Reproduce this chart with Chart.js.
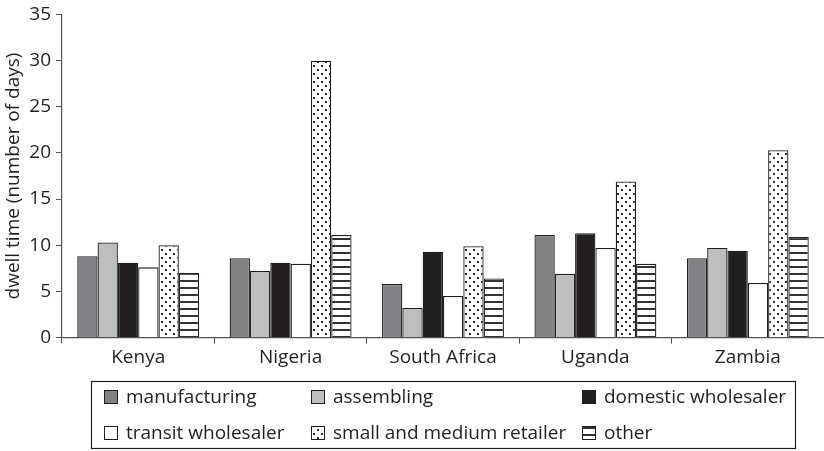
<!DOCTYPE html>
<html>
<head>
<meta charset="utf-8">
<script src="https://cdn.jsdelivr.net/npm/chart.js@4/dist/chart.umd.min.js"></script>
<style>
  body { margin: 0; background: #fff; }
</style>
</head>
<body>
<canvas id="mycanvas" width="824" height="451"></canvas>
<script>
// data
var countries = ['Kenya', 'Nigeria', 'South Africa', 'Uganda', 'Zambia'];
var seriesNames = ['manufacturing', 'assembling', 'domestic wholesaler',
                   'transit wholesaler', 'small and medium retailer', 'other'];
var manufacturing = [8.8, 8.6, 5.8, 11.1, 8.6];
var assembling = [10.3, 7.2, 3.2, 6.9, 9.7];
var domesticWholesaler = [8.1, 8.1, 9.3, 11.3, 9.4];
var transitWholesaler = [7.6, 8.0, 4.5, 9.7, 5.9];
var smeRetailer = [10.0, 30.0, 9.9, 16.9, 20.3];
var other = [7.0, 11.1, 6.4, 8.0, 10.9];
var yTicks = [0, 5, 10, 15, 20, 25, 30, 35];

var ink = '#231f20';
var font = '"Open Sans", "DejaVu Sans", sans-serif';

// fill patterns
function dotPattern() {
    var c = document.createElement('canvas');
    c.width = 8; c.height = 8;
    var g = c.getContext('2d');
    g.fillStyle = '#fff';
    g.fillRect(0, 0, 8, 8);
    g.fillStyle = '#333';
    g.fillRect(1, 1, 2, 2);
    g.fillRect(5, 5, 2, 2);
    return g.createPattern(c, 'repeat');
}
function stripePattern() {
    var c = document.createElement('canvas');
    c.width = 8; c.height = 7;
    var g = c.getContext('2d');
    g.fillStyle = '#fff';
    g.fillRect(0, 0, 8, 7);
    g.fillStyle = '#333';
    g.fillRect(0, 0, 8, 2);
    return g.createPattern(c, 'repeat');
}

var fills = ['#818285', '#bcbec0', ink, '#ffffff', dotPattern(), stripePattern()];
var values = [manufacturing, assembling, domesticWholesaler, transitWholesaler, smeRetailer, other];

var datasets = [];
for (var i in seriesNames) {
    datasets.push({
        label: seriesNames[i],
        data: values[i],
        backgroundColor: fills[i],
        borderColor: ink,
        borderWidth: 1.3,
        categoryPercentage: 0.8,
        barPercentage: 1.0
    });
}

// legend in a box, two rows of three
var legendPos = [[104, 397], [311, 397], [582, 397],
                 [104, 433], [311, 433], [582, 433]];
var boxLegend = {
    id: 'boxLegend',
    afterDraw: function(chart) {
        var ctx = chart.ctx;
        ctx.save();
        ctx.strokeStyle = ink;
        ctx.lineWidth = 1.2;
        ctx.strokeRect(91.5, 381.5, 704, 67);
        ctx.font = '19px ' + font;
        ctx.textBaseline = 'middle';
        chart.data.datasets.forEach(function(ds, k) {
            var x = legendPos[k][0], y = legendPos[k][1];
            ctx.fillStyle = ds.backgroundColor;
            ctx.fillRect(x, y - 7, 14, 14);
            ctx.lineWidth = 1;
            ctx.strokeStyle = ink;
            ctx.strokeRect(x + 0.5, y - 6.5, 13, 13);
            ctx.fillStyle = ink;
            ctx.fillText(ds.label, x + 22, y + 1);
        });
        ctx.restore();
    }
};

var ctx = document.getElementById('mycanvas');
var barGraph = new Chart(ctx, {
    type: 'bar',
    data: { labels: countries, datasets: datasets },
    plugins: [boxLegend],
    options: {
        responsive: false,
        animation: false,
        layout: { padding: { top: 12.5, right: 0, bottom: 70, left: 0 } },
        plugins: { legend: { display: false }, tooltip: { enabled: false } },
        scales: {
            x: {
                offset: true,
                grid: { offset: true, drawOnChartArea: false, tickLength: 6, color: '#555' },
                border: { color: '#555', width: 1.2 },
                ticks: { color: ink, font: { family: font, size: 19 }, padding: 3 },
                afterFit: function(scale) { scale.height = 43.5; }
            },
            y: {
                min: 0,
                max: 35,
                afterBuildTicks: function(scale) {
                    scale.ticks = yTicks.map(function(v) { return { value: v }; });
                },
                grid: { drawOnChartArea: false, tickLength: 6, color: '#555' },
                border: { color: '#555', width: 1.2 },
                ticks: { color: ink, font: { family: font, size: 19, lineHeight: 1 }, padding: 5 },
                title: {
                    display: true,
                    text: 'dwell time (number of days)',
                    color: ink,
                    font: { family: font, size: 19 },
                    padding: { top: 2, bottom: 0 }
                },
                afterFit: function(scale) { scale.width = 62; }
            }
        }
    }
});
</script>
</body>
</html>
